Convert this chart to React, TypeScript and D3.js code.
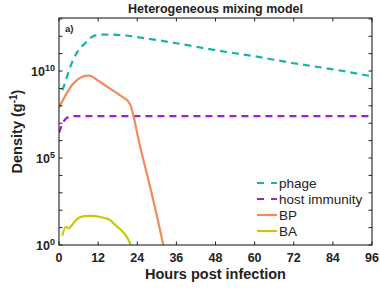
import React, { useRef, useEffect } from "react";
import * as d3 from "d3";

// hours and log10 densities
const phageT = [1, 2, 3, 4, 5, 6, 8, 10, 12, 14, 16, 20, 24, 36, 48, 60, 72, 84, 96];
const phageLog = [8.9, 9.4, 10.0, 10.5, 10.9, 11.2, 11.6, 11.95, 12.08, 12.1, 12.1, 12.05, 11.95, 11.6, 11.2, 10.85, 10.45, 10.1, 9.7];

const hostT = [0, 1, 2, 3, 4, 5, 6, 8, 96];
const hostLog = [6.45, 6.95, 7.25, 7.36, 7.4, 7.41, 7.41, 7.41, 7.41];

const bpT = [0, 2, 4, 6, 8, 9, 10, 12, 14, 16, 18, 20, 21, 22, 23, 24, 26, 28, 30, 32];
const bpLog = [7.9, 8.6, 9.2, 9.55, 9.72, 9.74, 9.7, 9.45, 9.2, 8.95, 8.7, 8.45, 8.3, 8.0, 7.3, 6.4, 4.8, 3.3, 1.7, 0.0];

const baT = [1, 2.1, 2.9, 4, 5, 7, 9, 10.5, 12, 14, 15.6, 17, 19.7, 21, 22];
const baLog = [0.53, 1.05, 0.96, 1.15, 1.4, 1.63, 1.67, 1.67, 1.64, 1.55, 1.44, 1.2, 0.73, 0.4, 0.0];

const xTicks = [0, 12, 24, 36, 48, 60, 72, 84, 96];
const yLabelTicks = [0, 5, 10];

const series = [
  { name: "phage", t: phageT, v: phageLog, color: "#18b2ad", dash: "7,5" },
  { name: "host immunity", t: hostT, v: hostLog, color: "#a01fd2", dash: "7,5" },
  { name: "BP", t: bpT, v: bpLog, color: "#f08c58", dash: null },
  { name: "BA", t: baT, v: baLog, color: "#c9c90c", dash: null },
];

const W = 380, H = 289;
const M = { left: 59, right: 8, top: 18, bottom: 44 };
const FONT = "'Liberation Sans', Arial, sans-serif";

const Chart = () => {
  const ref = useRef<SVGSVGElement>(null);

  useEffect(() => {
    const svg = d3.select(ref.current);
    svg.selectAll("*").remove();
    const iw = W - M.left - M.right;
    const ih = H - M.top - M.bottom;

    const x = d3.scaleLinear().domain([0, 96]).range([0, iw]);
    const y = d3.scaleLinear().domain([0, 13.05]).range([ih, 0]);

    const g = svg.append("g").attr("transform", `translate(${M.left},${M.top})`);

    // clip
    svg.append("defs").append("clipPath").attr("id", "clip")
      .append("rect").attr("width", iw).attr("height", ih);

    const line = d3.line<[number, number]>()
      .x(d => x(d[0]))
      .y(d => y(d[1]))
      .curve(d3.curveMonotoneX);

    const lines = g.append("g").attr("clip-path", "url(#clip)");
    series.forEach(s => {
      lines.append("path")
        .datum(s.t.map((t, i) => [t, s.v[i]] as [number, number]))
        .attr("d", line)
        .attr("fill", "none")
        .attr("stroke", s.color)
        .attr("stroke-width", 2.2)
        .attr("stroke-dasharray", s.dash ? s.dash : null);
    });

    // box
    g.append("rect").attr("width", iw).attr("height", ih)
      .attr("fill", "none").attr("stroke", "#222").attr("stroke-width", 1.1);

    // ticks (inward, all four sides)
    const tk = 3.5;
    xTicks.forEach(t => {
      g.append("line").attr("x1", x(t)).attr("x2", x(t)).attr("y1", ih).attr("y2", ih - tk).attr("stroke", "#222");
      g.append("line").attr("x1", x(t)).attr("x2", x(t)).attr("y1", 0).attr("y2", tk).attr("stroke", "#222");
      g.append("text").attr("x", x(t)).attr("y", ih + 17)
        .attr("text-anchor", "middle").attr("font-family", FONT)
        .attr("font-weight", "bold").attr("font-size", 12.5).attr("fill", "#222")
        .text(t);
    });
    d3.range(0, 14).forEach(d => {
      g.append("line").attr("x1", 0).attr("x2", tk).attr("y1", y(d)).attr("y2", y(d)).attr("stroke", "#222");
      g.append("line").attr("x1", iw).attr("x2", iw - tk).attr("y1", y(d)).attr("y2", y(d)).attr("stroke", "#222");
    });
    yLabelTicks.forEach(d => {
      const t = g.append("text").attr("x", -4).attr("y", y(d) + 5)
        .attr("text-anchor", "end").attr("font-family", FONT)
        .attr("font-weight", "bold").attr("font-size", 12.5).attr("fill", "#222");
      t.append("tspan").text("10");
      t.append("tspan").attr("dy", -5).attr("font-size", 9).text(d);
    });

    // panel label
    g.append("text").attr("x", 6).attr("y", 14)
      .attr("font-family", FONT).attr("font-weight", "bold").attr("font-size", 9.5).attr("fill", "#222")
      .text("a)");

    // title
    svg.append("text").attr("x", M.left + iw / 2).attr("y", 13)
      .attr("text-anchor", "middle").attr("font-family", FONT)
      .attr("font-weight", "bold").attr("font-size", 12.5).attr("fill", "#222")
      .text("Heterogeneous mixing model");

    // axis labels
    svg.append("text").attr("x", M.left + iw / 2).attr("y", H - 10)
      .attr("text-anchor", "middle").attr("font-family", FONT)
      .attr("font-weight", "bold").attr("font-size", 14.5).attr("fill", "#222")
      .text("Hours post infection");
    const yl = svg.append("text")
      .attr("transform", `translate(22,${M.top + ih / 2}) rotate(-90)`)
      .attr("text-anchor", "middle").attr("font-family", FONT)
      .attr("font-weight", "bold").attr("font-size", 14.5).attr("fill", "#222");
    yl.append("tspan").text("Density (g");
    yl.append("tspan").attr("dy", -5).attr("font-size", 10).text("-1");
    yl.append("tspan").attr("dy", 5).text(")");

    // legend
    const lg = svg.append("g").attr("transform", "translate(257,183)");
    series.forEach((s, i) => {
      const row = lg.append("g").attr("transform", `translate(0,${i * 16})`);
      row.append("line").attr("x1", 0).attr("x2", 20).attr("y1", 0).attr("y2", 0)
        .attr("stroke", s.color).attr("stroke-width", 2.2)
        .attr("stroke-dasharray", s.dash ? "7,7" : null);
      row.append("text").attr("x", 22).attr("y", 4.5)
        .attr("font-family", FONT).attr("font-size", 13.5).attr("fill", "#222")
        .text(s.name);
    });
  }, []);

  return (
    <svg ref={ref} width={W} height={H}
      style={{ position: "absolute", left: 0, top: 0, display: "block" }}></svg>
  );
};

export default function App() {
  return (
    <div>
      <Chart />
    </div>
  );
}
